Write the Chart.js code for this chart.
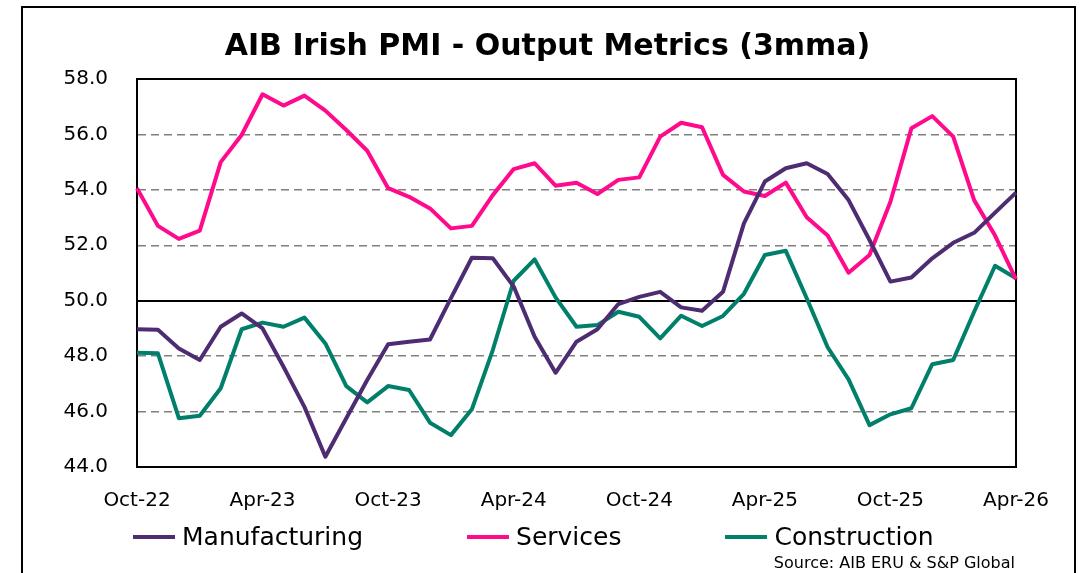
<!DOCTYPE html>
<html>
<head>
<meta charset="utf-8">
<script src="https://cdn.jsdelivr.net/npm/chart.js@4"></script>
<style>
  html, body { margin: 0; padding: 0; background: #fff; overflow: hidden; }
  #wrap { position: relative; width: 1089px; height: 573px; }
  #frame { position: absolute; left: 21px; top: 6px; width: 1051px; height: 620px; border: 2px solid #000; }
  #chart { position: absolute; left: 0; top: 0; }
  #legend { position: absolute; left: 133px; top: 522px; display: flex; gap: 104px;
            font-family: "DejaVu Sans", sans-serif; font-size: 25px; color: #000; }
  #legend .item { display: flex; align-items: center; gap: 7px; }
  #legend .swatch { width: 42px; height: 4px; }
  #source { position: absolute; right: 74px; top: 553px; font-family: "DejaVu Sans", sans-serif;
            font-size: 16px; color: #000; }
</style>
</head>
<body>
<div id="wrap">
  <div id="frame"></div>
  <canvas id="chart" width="1089" height="573"></canvas>
  <div id="legend"></div>
  <div id="source">Source: AIB ERU &amp; S&amp;P Global</div>
</div>
<script>
// ===================
// data (3mma)
// ===================
const months = [
  "Oct-22", "Nov-22", "Dec-22", "Jan-23", "Feb-23", "Mar-23", "Apr-23", "May-23", "Jun-23",
  "Jul-23", "Aug-23", "Sep-23", "Oct-23", "Nov-23", "Dec-23", "Jan-24", "Feb-24", "Mar-24",
  "Apr-24", "May-24", "Jun-24", "Jul-24", "Aug-24", "Sep-24", "Oct-24", "Nov-24", "Dec-24",
  "Jan-25", "Feb-25", "Mar-25", "Apr-25", "May-25", "Jun-25", "Jul-25", "Aug-25", "Sep-25",
  "Oct-25", "Nov-25", "Dec-25", "Jan-26", "Feb-26", "Mar-26", "Apr-26"
];

const manufacturing = [
  48.97, 48.95, 48.28, 47.86, 49.06, 49.54, 49.0, 47.62, 46.17, 44.37, 45.76, 47.14, 48.43,
  48.52, 48.6, 50.09, 51.55, 51.53, 50.51, 48.7, 47.4, 48.52, 48.97, 49.88, 50.14, 50.32,
  49.76, 49.64, 50.32, 52.79, 54.3, 54.78, 54.96, 54.57, 53.63, 52.19, 50.69, 50.84, 51.53,
  52.09, 52.45, 53.18, 53.9
];

const services = [
  54.06, 52.7, 52.23, 52.53, 55.0, 55.98, 57.45, 57.04, 57.4, 56.86, 56.16, 55.41, 54.06,
  53.75, 53.33, 52.61, 52.7, 53.81, 54.75, 54.96, 54.15, 54.26, 53.85, 54.36, 54.45, 55.92,
  56.42, 56.26, 54.54, 53.94, 53.78, 54.26, 53.01, 52.35, 51.01, 51.65, 53.57, 56.22, 56.66,
  55.92, 53.63, 52.35, 50.77
];

const construction = [
  48.12, 48.1, 45.76, 45.85, 46.84, 48.97, 49.21, 49.06, 49.39, 48.46, 46.92, 46.33, 46.92,
  46.78, 45.6, 45.15, 46.08, 48.22, 50.72, 51.49, 50.12, 49.06, 49.12, 49.6, 49.42, 48.64,
  49.46, 49.09, 49.45, 50.25, 51.65, 51.8, 50.09, 48.32, 47.16, 45.51, 45.9, 46.12, 47.71,
  47.86, 49.6, 51.26, 50.81
];

const yMin = 44;
const yMax = 58;
const yStep = 2;
const neutral = 50;

Chart.defaults.font.family = "'DejaVu Sans', sans-serif";
Chart.defaults.color = "#000";

// border round the plot area
const framePlugin = {
  id: "frame",
  beforeDatasetsDraw(chart) {
    const { ctx, chartArea: a } = chart;
    ctx.save();
    ctx.strokeStyle = "#000";
    ctx.lineWidth = 2;
    ctx.strokeRect(a.left, a.top, a.right - a.left, a.bottom - a.top);
    ctx.restore();
  },
};

// html legend built from the datasets
const htmlLegend = {
  id: "htmlLegend",
  afterUpdate(chart) {
    const box = document.getElementById("legend");
    box.innerHTML = "";
    chart.data.datasets.forEach((ds) => {
      const item = document.createElement("div");
      item.className = "item";
      const sw = document.createElement("span");
      sw.className = "swatch";
      sw.style.background = ds.borderColor;
      const txt = document.createElement("span");
      txt.textContent = ds.label;
      item.appendChild(sw);
      item.appendChild(txt);
      box.appendChild(item);
    });
  },
};

const isSolid = (v) => v === neutral || v === yMax || v === yMin;

new Chart(document.getElementById("chart"), {
  type: "line",
  data: {
    labels: months,
    datasets: [
      { label: "Manufacturing", data: manufacturing, borderColor: "#4E2C72" },
      { label: "Services", data: services, borderColor: "#FF0A8C" },
      { label: "Construction", data: construction, borderColor: "#00806A" },
    ],
  },
  options: {
    responsive: false,
    animation: false,
    devicePixelRatio: 1,
    layout: { padding: { left: 60, right: 54, top: 0, bottom: 61 } },
    elements: {
      line: { borderWidth: 4, tension: 0, fill: false, borderJoinStyle: "round" },
      point: { radius: 0 },
    },
    plugins: {
      legend: { display: false },
      tooltip: { enabled: false },
      title: {
        display: true,
        text: "AIB Irish PMI - Output Metrics (3mma)",
        font: { size: 30, weight: "bold" },
        color: "#000",
        padding: { top: 29, bottom: 14 },
      },
    },
    scales: {
      x: {
        grid: { drawOnChartArea: false, drawTicks: false },
        border: { display: true, color: "#000", width: 2 },
        afterFit: (s) => { s.height = 45; },
        ticks: {
          autoSkip: false,
          maxRotation: 0,
          padding: 22,
          font: { size: 20 },
          callback: (v, i) => (i % 6 === 0 ? months[i] : ""),
        },
      },
      y: {
        min: yMin,
        max: yMax,
        afterFit: (s) => { s.width = 77; },
        grid: {
          drawTicks: false,
          color: (c) => (c.tick && isSolid(c.tick.value) ? "#000" : "#808080"),
          lineWidth: (c) => (c.tick && isSolid(c.tick.value) ? 2 : 1.5),
        },
        border: {
          display: true,
          color: "#000",
          width: 2,
          dash: (c) => (c.tick && !isSolid(c.tick.value) ? [8, 5] : []),
        },
        ticks: {
          stepSize: yStep,
          padding: 29,
          font: { size: 20 },
          callback: (v) => v.toFixed(1),
        },
      },
      // empty right axis, only keeps the title centred like the original
      yRight: {
        position: "right",
        min: yMin,
        max: yMax,
        afterFit: (s) => { s.width = 19; },
        grid: { drawOnChartArea: false, drawTicks: false },
        border: { display: false },
        ticks: { display: false },
      },
    },
  },
  plugins: [framePlugin, htmlLegend],
});
</script>
</body>
</html>
